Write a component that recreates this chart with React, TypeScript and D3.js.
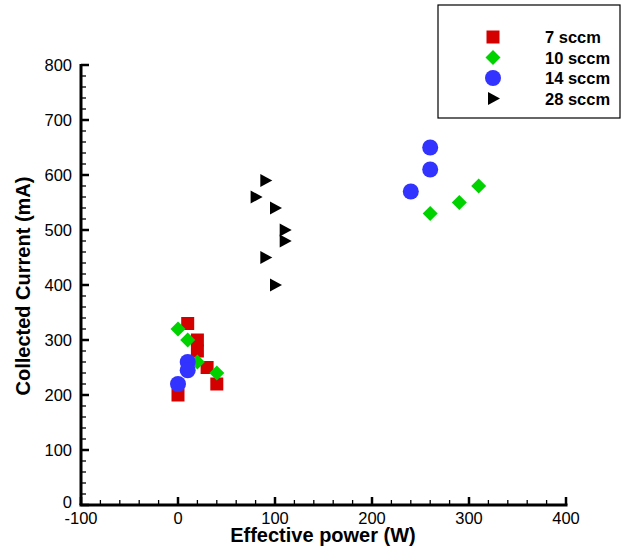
import React from "react";
import * as d3 from "d3";

const xTicks = [-100, 0, 100, 200, 300, 400];
const yTicks = [0, 100, 200, 300, 400, 500, 600, 700, 800];

const s7x = [10, 20, 20, 30, 40, 0];
const s7y = [330, 300, 280, 250, 220, 200];
const s10x = [0, 10, 20, 40, 260, 290, 310];
const s10y = [320, 300, 260, 240, 530, 550, 580];
const s14x = [10, 10, 0, 260, 260, 240];
const s14y = [260, 245, 220, 650, 610, 570];
const s28x = [90, 80, 100, 110, 110, 90, 100];
const s28y = [590, 560, 540, 500, 480, 450, 400];

const seriesNames = ["7 sccm", "10 sccm", "14 sccm", "28 sccm"];
const seriesColors = ["#d40000", "#00d200", "#3333ff", "#000000"];
const seriesShapes = ["square", "diamond", "circle", "triangle"];

const W = 626, H = 550;
const x = d3.scaleLinear().domain([-100, 400]).range([81, 566]);
const y = d3.scaleLinear().domain([0, 800]).range([505, 65]);

function Marker({ shape, cx, cy, color }: { shape: string; cx: number; cy: number; color: string }) {
  if (shape === "square") return <rect x={cx - 6.5} y={cy - 6.5} width={13} height={13} fill={color} />;
  if (shape === "circle") return <circle cx={cx} cy={cy} r={8} fill={color} />;
  if (shape === "diamond") {
    const r = 7.5;
    return <path d={`M${cx},${cy - r}L${cx + r},${cy}L${cx},${cy + r}L${cx - r},${cy}Z`} fill={color} />;
  }
  return <path d={`M${cx - 5},${cy - 6.5}L${cx + 7},${cy}L${cx - 5},${cy + 6.5}Z`} fill={color} />;
}

export default function App() {
  const xs = [s7x, s10x, s14x, s28x];
  const ys = [s7y, s10y, s14y, s28y];
  const xMinor = d3.range(-100, 401, 20).filter((v) => v % 100 !== 0);
  const yMinor = d3.range(0, 801, 20).filter((v) => v % 100 !== 0);
  const font = "Liberation Sans, Arial, sans-serif";
  return (
    <svg width={W} height={H} style={{ position: "absolute", left: 0, top: 0 }} fontFamily={font}>
      <rect width={W} height={H} fill="#fff" />
      {/* axes */}
      <line x1={x(-100) - 1.5} x2={x(400) + 1.5} y1={y(0)} y2={y(0)} stroke="#000" strokeWidth={3} />
      <line x1={x(-100)} x2={x(-100)} y1={y(0)} y2={y(800) - 1} stroke="#000" strokeWidth={3} />
      {xTicks.map((t) => (
        <g key={"xt" + t}>
          <line x1={x(t)} x2={x(t)} y1={y(0)} y2={y(0) - 8} stroke="#000" strokeWidth={2.5} />
          <text x={x(t)} y={524} textAnchor="middle" fontSize={16.5}>{t}</text>
        </g>
      ))}
      {xMinor.map((t) => (
        <line key={"xm" + t} x1={x(t)} x2={x(t)} y1={y(0)} y2={y(0) - 5} stroke="#000" strokeWidth={1.3} />
      ))}
      {yTicks.map((t) => (
        <g key={"yt" + t}>
          <line x1={x(-100)} x2={x(-100) + 8} y1={y(t)} y2={y(t)} stroke="#000" strokeWidth={2.5} />
          <text x={72} y={t === 0 ? y(t) + 3 : y(t) + 6} textAnchor="end" fontSize={16.5}>{t}</text>
        </g>
      ))}
      {yMinor.map((t) => (
        <line key={"ym" + t} x1={x(-100)} x2={x(-100) + 5} y1={y(t)} y2={y(t)} stroke="#000" strokeWidth={1.3} />
      ))}
      <text x={323} y={542} textAnchor="middle" fontSize={20} fontWeight="bold">Effective power (W)</text>
      <text transform={`translate(30,286) rotate(-90)`} textAnchor="middle" fontSize={20} fontWeight="bold">Collected Current (mA)</text>
      {/* data */}
      {xs.map((sx, si) =>
        sx.map((vx, i) => (
          <Marker key={si + "-" + i} shape={seriesShapes[si]} cx={x(vx)} cy={y(ys[si][i])} color={seriesColors[si]} />
        ))
      )}
      {/* legend */}
      <rect x={438} y={5} width={182} height={113} fill="#fff" stroke="#000" strokeWidth={1.2} />
      {seriesNames.map((n, i) => (
        <g key={n}>
          <Marker shape={seriesShapes[i]} cx={493} cy={37 + i * 20.5} color={seriesColors[i]} />
          <text x={545} y={37 + i * 20.5 + 6} fontSize={16.5} fontWeight="bold">{n}</text>
        </g>
      ))}
    </svg>
  );
}
